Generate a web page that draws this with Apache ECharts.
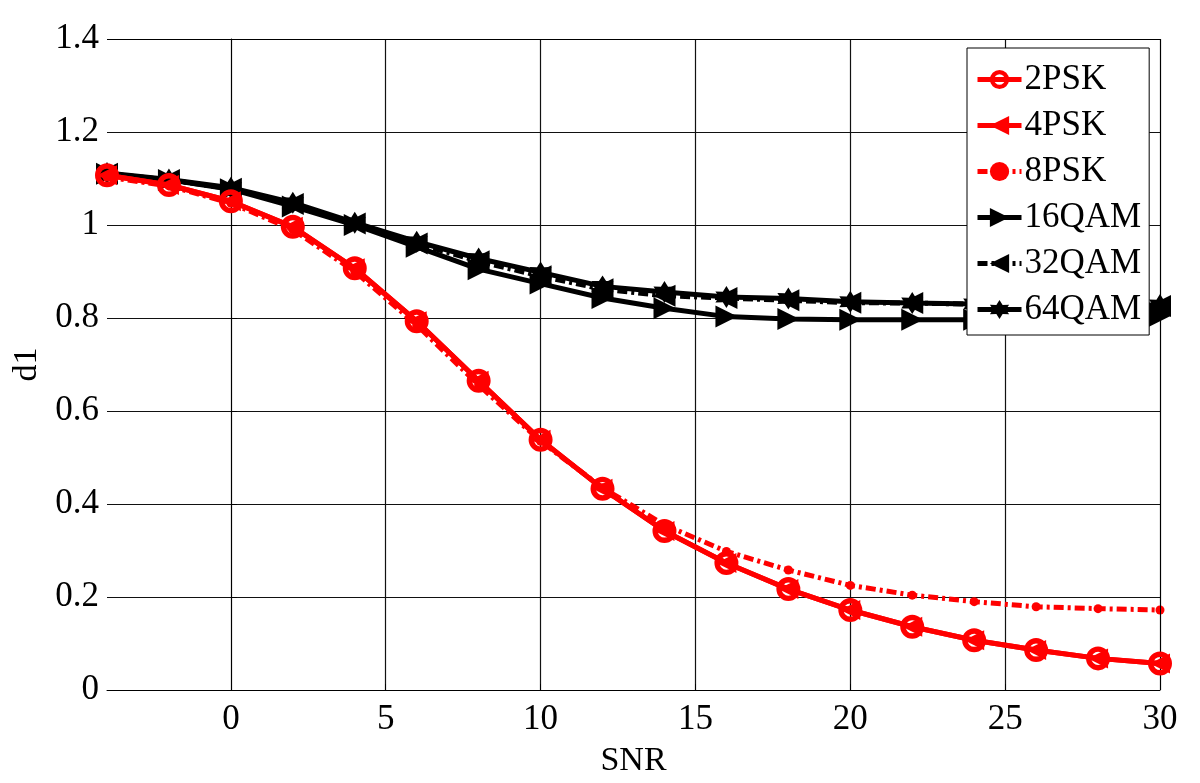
<!DOCTYPE html>
<html>
<head>
<meta charset="utf-8">
<script src="https://cdn.jsdelivr.net/npm/echarts@6/dist/echarts.min.js"></script>
<style>
html, body { margin: 0; padding: 0; background: #fff; }
#chart { width: 1200px; height: 783px; }
</style>
</head>
<body>
<div id="chart"></div>
<script>
// SNR points
const snr = [-4, -2, 0, 2, 4, 6, 8, 10, 12, 14, 16, 18, 20, 22, 24, 26, 28, 30]
const xTicks = [0, 5, 10, 15, 20, 25, 30]

const psk2 = [1.107, 1.086, 1.051, 0.996, 0.907, 0.793, 0.665, 0.538, 0.433, 0.342, 0.273, 0.217, 0.172, 0.136, 0.107, 0.086, 0.068, 0.057]
const psk4 = [1.107, 1.086, 1.051, 0.996, 0.907, 0.793, 0.665, 0.538, 0.433, 0.342, 0.273, 0.217, 0.172, 0.136, 0.107, 0.086, 0.068, 0.057]
const psk8 = [1.103, 1.084, 1.047, 0.990, 0.900, 0.785, 0.656, 0.535, 0.435, 0.355, 0.298, 0.258, 0.225, 0.204, 0.190, 0.179, 0.175, 0.172]
const qam16 = [1.110, 1.097, 1.077, 1.040, 1.000, 0.953, 0.905, 0.874, 0.843, 0.821, 0.803, 0.798, 0.796, 0.796, 0.796, 0.797, 0.800, 0.805]
const qam32 = [1.110, 1.097, 1.078, 1.045, 1.003, 0.960, 0.922, 0.890, 0.862, 0.848, 0.843, 0.838, 0.833, 0.832, 0.830, 0.828, 0.827, 0.826]
const qam64 = [1.112, 1.098, 1.080, 1.048, 1.005, 0.964, 0.928, 0.898, 0.868, 0.856, 0.845, 0.842, 0.835, 0.832, 0.830, 0.829, 0.828, 0.828]

const font = 'Liberation Serif'
const ring = 'path://M0,10 A10,10 0 1,0 20,10 A10,10 0 1,0 0,10 Z M4.5,10 A5.5,5.5 0 1,1 15.5,10 A5.5,5.5 0 1,1 4.5,10 Z'
const triLeft = 'path://M0,5 L10,0 L10,10 Z'
const triRight = 'path://M0,0 L10,5 L0,10 Z'
const star = 'path://M5,0 L6.4,2.6 L9.3,2.5 L7.9,5 L9.3,7.5 L6.4,7.4 L5,10 L3.6,7.4 L0.7,7.5 L2.1,5 L0.7,2.5 L3.6,2.6 Z'

function pairs(ys) {
    return snr.map((x, i) => [x, ys[i]])
}

function mkSeries(name, ys, color, lineType, symbol, size, z) {
    return {
        name: name,
        type: 'line',
        z: z,
        data: pairs(ys),
        symbol: symbol,
        symbolSize: size,
        lineStyle: { color: color, width: 5, type: lineType },
        itemStyle: { color: color, borderColor: color, borderWidth: 0 },
        animation: false
    }
}

const chart = echarts.init(document.getElementById('chart'))
chart.setOption({
    backgroundColor: '#fff',
    grid: { left: 107, right: 40, top: 39, bottom: 93, show: false },
    legend: {
        orient: 'vertical',
        left: 967,
        top: 48,
        padding: [14, 8, 8, 8],
        itemGap: 11,
        itemWidth: 44,
        itemHeight: 24,
        backgroundColor: '#fff',
        borderColor: '#000',
        borderWidth: 1,
        borderRadius: 0,
        lineStyle: { width: 5 },
        textStyle: { fontFamily: font, fontSize: 35, color: '#000', padding: [0, 0, 0, -2] },
        data: ['2PSK', '4PSK', '8PSK', '16QAM', '32QAM', '64QAM']
    },
    xAxis: {
        type: 'value',
        min: -4,
        max: 30,
        name: 'SNR',
        nameLocation: 'middle',
        nameGap: 54,
        nameTextStyle: { fontFamily: font, fontSize: 34, color: '#000' },
        axisLine: { show: true, lineStyle: { color: '#000', width: 1 } },
        axisTick: { show: true, inside: true, length: 6, customValues: xTicks, lineStyle: { color: '#000' } },
        axisLabel: { customValues: xTicks, fontFamily: font, fontSize: 35, color: '#000', margin: 12 },
        splitLine: { show: true, lineStyle: { color: '#111', width: 1.2 } }
    },
    yAxis: {
        type: 'value',
        min: 0,
        max: 1.4,
        interval: 0.2,
        name: 'd1',
        nameLocation: 'middle',
        nameGap: 50,
        nameTextStyle: { fontFamily: font, fontSize: 34, color: '#000' },
        axisLine: { show: true, lineStyle: { color: '#000', width: 1 } },
        axisTick: { show: true, inside: true, length: 6, lineStyle: { color: '#000' } },
        axisLabel: { fontFamily: font, fontSize: 35, color: '#000', margin: 8 },
        splitLine: { show: true, lineStyle: { color: '#111', width: 1.2 } }
    },
    series: [
        mkSeries('2PSK', psk2, '#ff0000', 'solid', ring, 24, 6),
        mkSeries('4PSK', psk4, '#ff0000', 'solid', triLeft, 20, 5),
        mkSeries('8PSK', psk8, '#ff0000', [10, 4, 3, 4], 'circle', 9, 4),
        mkSeries('16QAM', qam16, '#000000', 'solid', triRight, 22, 3),
        mkSeries('32QAM', qam32, '#000000', [10, 4, 3, 4], triLeft, 22, 3),
        mkSeries('64QAM', qam64, '#000000', 'solid', star, 22, 3),
        {
            type: 'line',
            data: [],
            markLine: {
                silent: true,
                symbol: 'none',
                label: { show: false },
                lineStyle: { color: '#000', width: 1, type: 'solid' },
                data: [{ xAxis: 30 }, { yAxis: 1.4 }]
            }
        }
    ]
})
</script>
</body>
</html>
